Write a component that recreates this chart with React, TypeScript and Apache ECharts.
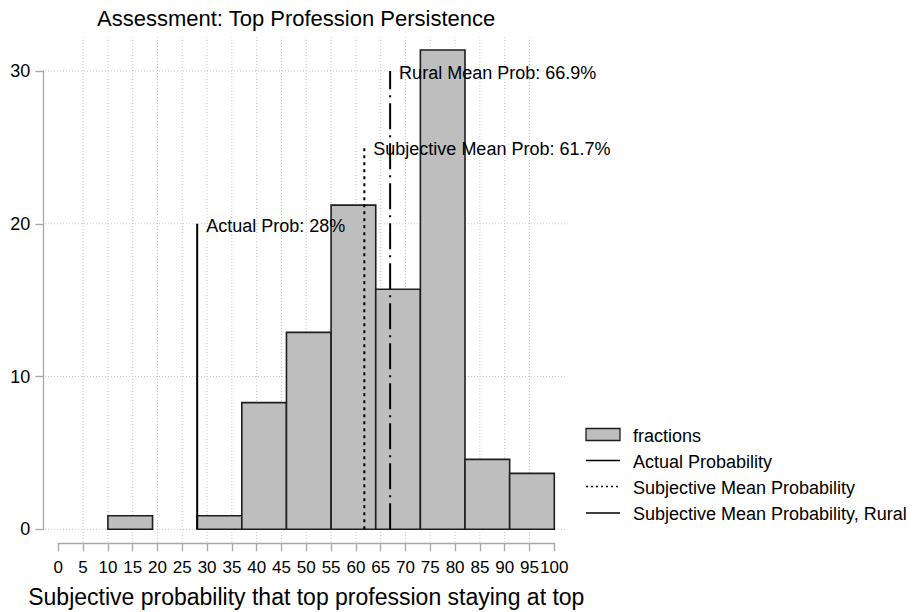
import React, { useEffect, useRef } from "react";
import * as echarts from "echarts";

// ---- data ----
const binStarts = [10, 19, 28, 37, 46, 55, 64, 73, 82, 91];
const binWidth = 9;
const fractions = [0.89, 0, 0.89, 8.29, 12.89, 21.22, 15.71, 31.37, 4.58, 3.66];
const xTicks = [0, 5, 10, 15, 20, 25, 30, 35, 40, 45, 50, 55, 60, 65, 70, 75, 80, 85, 90, 95, 100];
const yTicks = [0, 10, 20, 30];
const refValues = [28, 61.7, 66.9];
const refTops = [20, 25, 30];
const refLabels = ["Actual Prob: 28%", "Subjective Mean Prob: 61.7%", "Rural Mean Prob: 66.9%"];
const legendNames = ["fractions", "Actual Probability", "Subjective Mean Probability", "Subjective Mean Probability, Rural"];
const titleText = "Assessment: Top Profession Persistence";
const xTitle = "Subjective probability that top profession staying at top";

const FONT = "'Liberation Sans', Arial, Helvetica, sans-serif";
const AXIS_GRAY = "#a8a8a8";
const GRID_GRAY = "#c4c4c4";
const BAR_FILL = "#bebebe";
const BAR_EDGE = "#1e1e1e";
const lineDashes: (number[] | null)[] = [null, [3, 4], [26, 6, 2, 6]];
const legendDashes: (number[] | null)[] = [null, [2, 3], null];

export default function App() {
  const ref = useRef<HTMLDivElement>(null);
  useEffect(() => {
    if (!ref.current) return;
    const chart = echarts.init(ref.current, undefined, { renderer: "svg" });

    const xLo = -2.7, xHi = 102.6, yLo = -0.83, yHi = 32.2;
    const gridSegs: number[][] = [];
    xTicks.filter((t) => t > 0 && t < 100).forEach((t) => gridSegs.push([t, yLo, t, yHi]));
    yTicks.forEach((t) => gridSegs.push([xLo, t, xHi, t]));

    const barData = binStarts
      .map((s, i) => [s, fractions[i], s + binWidth])
      .filter((d) => d[1] > 0);

    const refSeries = refValues.map((v, i) => ({
      type: "custom",
      name: legendNames[i + 1],
      clip: false,
      silent: true,
      z: 5,
      data: [[v, refTops[i]]],
      renderItem: (params: any, api: any) => {
        const x = api.value(0);
        const top = api.value(1);
        const pb = api.coord([x, 0]);
        const pt = api.coord([x, top]);
        const dash = lineDashes[i];
        return {
          type: "group",
          children: [
            {
              type: "line",
              shape: { x1: pb[0], y1: pb[1], x2: pt[0], y2: pt[1] },
              style: {
                stroke: "#000",
                lineWidth: 2,
                lineDash: dash ? dash : undefined,
              },
            },
            {
              type: "text",
              x: pt[0] + 9,
              y: pt[1] + 2,
              style: {
                text: refLabels[i],
                fill: "#000",
                fontSize: 18,
                fontFamily: FONT,
                align: "left",
                verticalAlign: "middle",
              },
            },
          ],
        };
      },
    }));

    const axisCommon = {
      type: "value",
      axisLine: { show: true, onZero: false, lineStyle: { color: AXIS_GRAY, width: 1.3 } },
      axisTick: { show: true, length: 8, inside: false, lineStyle: { color: AXIS_GRAY, width: 1.3 } },
      splitLine: { show: false },
    };

    const legendRowsY = [434.5, 460.5, 486.5, 513];
    const legendGraphics: any[] = [];
    legendRowsY.forEach((y, i) => {
      if (i === 0) {
        legendGraphics.push({
          type: "rect",
          shape: { x: 586, y: y - 6, width: 34, height: 12 },
          style: { fill: BAR_FILL, stroke: BAR_EDGE, lineWidth: 1.3 },
        });
      } else {
        const dash = legendDashes[i - 1];
        legendGraphics.push({
          type: "line",
          shape: { x1: 586, y1: y, x2: 620, y2: y },
          style: { stroke: "#000", lineWidth: 1.6, lineDash: dash ? dash : undefined },
        });
      }
      legendGraphics.push({
        type: "text",
        x: 633,
        y: y + 1,
        style: {
          text: legendNames[i],
          fill: "#000",
          fontSize: 18,
          fontFamily: FONT,
          align: "left",
          verticalAlign: "middle",
        },
      });
    });

    chart.setOption({
      animation: false,
      backgroundColor: "#fff",
      textStyle: { fontFamily: FONT },
      title: {
        text: titleText,
        left: 97,
        top: 7,
        padding: 0,
        textStyle: { fontSize: 22, fontWeight: "normal", color: "#000", fontFamily: FONT },
      },
      grid: {
        left: 58.3,
        top: 71,
        width: 496,
        height: 458.3,
        containLabel: false,
        outerBoundsMode: "none",
      },
      xAxis: {
        ...axisCommon,
        min: 0,
        max: 100,
        interval: 5,
        offset: 14,
        name: xTitle,
        nameLocation: "middle",
        nameGap: 54,
        nameTextStyle: { fontSize: 23, color: "#000", fontFamily: FONT, verticalAlign: "middle" },
        axisLabel: {
          color: "#000",
          fontSize: 17,
          fontFamily: FONT,
          margin: 24,
          verticalAlign: "middle",
          showMinLabel: true,
          showMaxLabel: true,
          hideOverlap: false,
        },
      },
      yAxis: {
        ...axisCommon,
        min: 0,
        max: 30,
        interval: 10,
        offset: 15,
        axisLabel: {
          color: "#000",
          fontSize: 18,
          fontFamily: FONT,
          margin: 13,
        },
      },
      graphic: legendGraphics,
      series: [
        {
          type: "custom",
          name: "grid",
          clip: false,
          silent: true,
          z: 1,
          data: gridSegs,
          renderItem: (params: any, api: any) => {
            const p1 = api.coord([api.value(0), api.value(1)]);
            const p2 = api.coord([api.value(2), api.value(3)]);
            return {
              type: "line",
              shape: { x1: p1[0], y1: p1[1], x2: p2[0], y2: p2[1] },
              style: { stroke: GRID_GRAY, lineWidth: 1, lineDash: [1, 2] },
            };
          },
        },
        {
          type: "custom",
          name: legendNames[0],
          clip: false,
          silent: true,
          z: 3,
          data: barData,
          renderItem: (params: any, api: any) => {
            const p0 = api.coord([api.value(0), 0]);
            const p1 = api.coord([api.value(2), api.value(1)]);
            return {
              type: "rect",
              shape: { x: p0[0], y: p1[1], width: p1[0] - p0[0], height: p0[1] - p1[1] },
              style: { fill: BAR_FILL, stroke: BAR_EDGE, lineWidth: 1.6 },
            };
          },
        },
        ...refSeries,
      ],
    });
    return () => chart.dispose();
  }, []);
  return (
    <div
      ref={ref}
      style={{ position: "fixed", left: 0, top: 0, width: 917, height: 612, background: "#fff" }}
    />
  );
}
